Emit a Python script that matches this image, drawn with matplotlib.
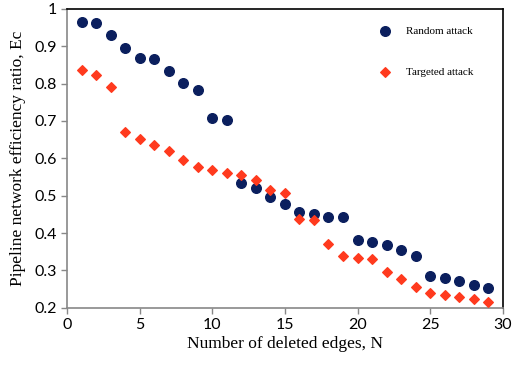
import matplotlib
matplotlib.use('Agg')
import matplotlib.pyplot as plt

edges = list(range(1, 30))
random_attack = [0.964, 0.961, 0.930, 0.894, 0.869, 0.867, 0.833, 0.801, 0.782, 0.707,
                 0.702, 0.534, 0.521, 0.497, 0.479, 0.456, 0.450, 0.444, 0.442, 0.382,
                 0.376, 0.369, 0.354, 0.339, 0.286, 0.280, 0.273, 0.261, 0.253]
targeted_attack = [0.836, 0.823, 0.791, 0.671, 0.651, 0.637, 0.619, 0.596, 0.578, 0.570,
                   0.561, 0.555, 0.543, 0.514, 0.508, 0.439, 0.436, 0.371, 0.339, 0.334,
                   0.331, 0.295, 0.277, 0.257, 0.241, 0.234, 0.230, 0.223, 0.215]

serif = ['Liberation Serif', 'DejaVu Serif']
sans = ['Lato', 'DejaVu Sans']

fig = plt.figure(figsize=(5.12, 3.70), dpi=100)
ax = fig.add_axes([0.131, 0.168, 0.851, 0.808])

ax.scatter(edges, random_attack, s=48, color='#0b1f5e', marker='o', label='Random attack', zorder=3)
ax.scatter(edges, targeted_attack, s=24, color='#ff3a1e', marker='D', label='Targeted attack', zorder=3)

ax.set_xlim(0, 30)
ax.set_ylim(0.2, 1.0)
ax.set_xticks(range(0, 31, 5))
ax.set_yticks([0.2, 0.3, 0.4, 0.5, 0.6, 0.7, 0.8, 0.9, 1.0])
ax.set_yticklabels(['0.2', '0.3', '0.4', '0.5', '0.6', '0.7', '0.8', '0.9', '1'])

for lbl in ax.get_xticklabels() + ax.get_yticklabels():
    lbl.set_family(sans)
    lbl.set_fontsize(11.5)

ax.tick_params(direction='out', length=4, color='#888888', width=1)

ax.spines['left'].set_color('#888888')
ax.spines['bottom'].set_color('#888888')
ax.spines['top'].set_color('black')
ax.spines['right'].set_color('black')
for sp in ax.spines.values():
    sp.set_linewidth(1.2)

ax.set_xlabel('Number of deleted edges, N', family=serif, fontsize=12.5, labelpad=3)
ax.set_ylabel('Pipeline network efficiency ratio, Ec', family=serif, fontsize=12.5, labelpad=6)

leg = ax.legend(loc='upper right', bbox_to_anchor=(0.955, 0.975), frameon=False,
                prop={'family': serif, 'size': 8}, labelspacing=2.8,
                handletextpad=0.9, scatterpoints=1, markerscale=1.0)

fig.savefig('out.png', dpi=100)
